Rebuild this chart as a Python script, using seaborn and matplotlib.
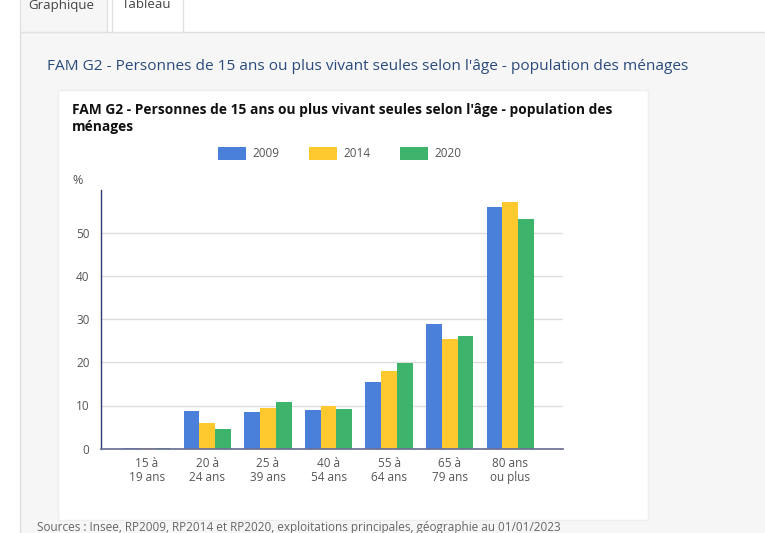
"""FAM G2 - personnes vivant seules selon l'age (Insee)."""

import matplotlib.pyplot as plt
import pandas as pd
import seaborn as sns
from matplotlib.patches import Rectangle

# Data
ages = ["15 à\n19 ans", "20 à\n24 ans", "25 à\n39 ans", "40 à\n54 ans",
        "55 à\n64 ans", "65 à\n79 ans", "80 ans\nou plus"]
years = ["2009", "2014", "2020"]
v2009 = [0.2, 8.8, 8.4, 9.0, 15.4, 28.8, 55.9]
v2014 = [0.1, 5.9, 9.5, 10.0, 18.1, 25.3, 57.1]
v2020 = [0.2, 4.5, 10.7, 9.3, 19.9, 26.2, 53.2]
yticks = [0, 10, 20, 30, 40, 50]

colors = ["#4a80d9", "#fdc92f", "#3db36b"]

df = pd.DataFrame({
    "age": ages * 3,
    "annee": [y for y in years for _ in ages],
    "valeur": v2009 + v2014 + v2020,
})

sns.set_theme(style="white")
plt.rcParams["font.family"] = ["Open Sans", "DejaVu Sans"]

W, H = 765, 533
fig = plt.figure(figsize=(W / 100, H / 100), dpi=100)
fig.patch.set_facecolor("white")


def box(x0, y0, x1, y1, zorder=-5, **kw):
    # rectangle in pixel coords (origin top-left)
    fig.patches.append(Rectangle((x0 / W, 1 - y1 / H), (x1 - x0) / W,
                                 (y1 - y0) / H, transform=fig.transFigure,
                                 zorder=zorder, **kw))


# page background and tabs
box(20, 32, W + 2, H + 2, facecolor="#f6f6f6", edgecolor="#dddddd", lw=1)
box(20, -2, 107, 32, facecolor="#f6f6f6", edgecolor="#e2e2e2", lw=1)
box(112, -2, 183, 32, facecolor="white", edgecolor="#e2e2e2", lw=1)
fig.text(28 / W, 1 - 5 / H, "Graphique", fontsize=9.5, color="#444444",
         va="center")
fig.text(122 / W, 1 - 5 / H, "Tableau", fontsize=9.5, color="#444444",
         va="center")

# page heading
fig.text(47 / W, 1 - 67 / H,
         "FAM G2 - Personnes de 15 ans ou plus vivant seules selon l'âge"
         " - population des ménages",
         fontsize=11.1, color="#2a4a7b", va="center")

# chart card
box(58, 90, 648, 520, zorder=-4, facecolor="white", edgecolor="#eeeeee",
    lw=1)
fig.text(72 / W, 1 - 118.5 / H,
         "FAM G2 - Personnes de 15 ans ou plus vivant seules selon l'âge"
         " - population des\nménages",
         fontsize=9.9, fontweight="bold", color="#111111", va="center",
         linespacing=1.25)

# source line (cut by the bottom edge in the reference too)
fig.text(37 / W, 1 - 528 / H,
         "Sources : Insee, RP2009, RP2014 et RP2020, exploitations "
         "principales, géographie au 01/01/2023",
         fontsize=8.5, color="#666666", va="center")

ax = fig.add_axes([100.7 / W, 84.3 / H, 462.3 / W, 259.2 / H])
ax.set_facecolor("none")
sns.barplot(data=df, x="age", y="valeur", hue="annee", palette=colors,
            width=0.78, gap=0, saturation=1, linewidth=0, ax=ax,
            legend=False)

ax.set_ylim(0, 60)
ax.set_xlim(-0.76, 6.87)
ax.set_yticks(yticks)
ax.yaxis.grid(True, color="#dddddd", lw=1)
ax.set_axisbelow(True)
for s in ["top", "right"]:
    ax.spines[s].set_visible(False)
ax.spines["left"].set_color("#2f3a70")
ax.spines["bottom"].set_color("#6b7094")
ax.spines["left"].set_linewidth(1)
ax.tick_params(axis="both", length=0, labelsize=8.5, colors="#555555")
ax.tick_params(axis="x", pad=6)
ax.tick_params(axis="y", pad=8)
for lbl in ax.get_xticklabels():
    lbl.set_linespacing(1.1)
ax.set_xlabel("")
ax.set_ylabel("")
fig.text(72 / W, 1 - 180 / H, "%", fontsize=9, color="#555555", va="center")

# legend
for i, (yr, c) in enumerate(zip(years, colors)):
    x0 = 218 + i * 91
    box(x0, 147, x0 + 28, 160, zorder=2, facecolor=c, edgecolor="none")
    fig.text((x0 + 34) / W, 1 - 154 / H, yr, fontsize=8.5, color="#555555",
             va="center")

fig.savefig("out.png", dpi=100)
